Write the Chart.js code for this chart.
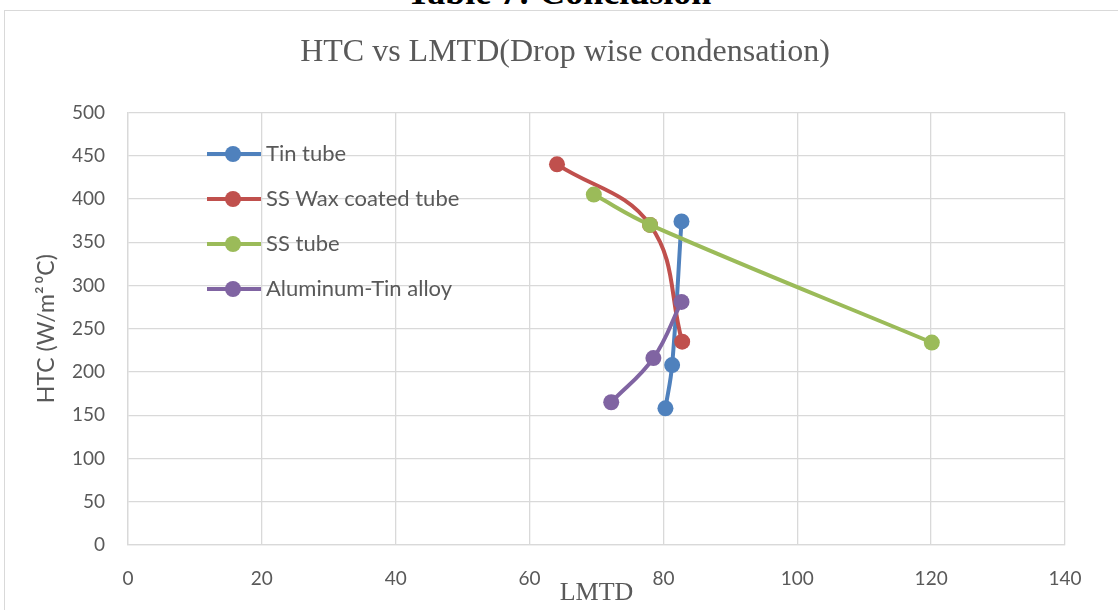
<!DOCTYPE html>
<html>
<head>
<meta charset="utf-8">
<script src="https://cdn.jsdelivr.net/npm/chart.js@4.4.0/dist/chart.umd.min.js"></script>
<style>
body{margin:0;background:#fff;width:1118px;height:610px;overflow:hidden;position:relative;font-family:Lato,sans-serif}
#cap{position:absolute;left:0;width:1118px;top:-26px;height:36px;line-height:36px;text-align:center;font-weight:bold;font-size:36px;font-family:"Liberation Serif",serif;color:#000}
#frame{position:absolute;left:4px;top:10px;width:1200px;height:700px;border-left:1.5px solid #d9d9d9;border-top:1.5px solid #d9d9d9}
#wrap{position:absolute;left:4px;top:12px;width:1110px;height:598px}
#legend{position:absolute;left:207px;top:131px}
.row{position:relative;height:45px;width:300px}
.ln{position:absolute;left:0;top:21px;width:54px;height:4px}
.dot{position:absolute;left:18px;top:15px;width:16px;height:16px;border-radius:50%}
.txt{position:absolute;left:59px;top:8px;font-size:22px;color:#595959;white-space:nowrap}
</style>
</head>
<body>
<div id="cap">Table 7: Conclusion</div>
<div id="frame"></div>
<div id="wrap"><canvas id="myChart" width="1110" height="598"></canvas></div>
<div id="legend"></div>
<script>
// values
let seriesNames = ['Tin tube', 'SS Wax coated tube', 'SS tube', 'Aluminum-Tin alloy'];
let tinX = [80.3, 81.3, 82.7];
let tinY = [158, 208, 374];
let waxX = [64.1, 78.0, 82.8];
let waxY = [440, 370, 235];
let ssX = [69.6, 78.0, 120.1];
let ssY = [405, 370, 234];
let alX = [72.2, 78.5, 82.7];
let alY = [165, 216, 281];

let colors = ['#4f81bd', '#c0504d', '#9bbb59', '#8064a2'];
let allX = [tinX, waxX, ssX, alX];
let allY = [tinY, waxY, ssY, alY];

function toPoints(xs, ys) {
    return xs.map(function (x, i) { return { x: x, y: ys[i] }; });
}

var datasets = seriesNames.map(function (name, i) {
    return {
        label: name,
        data: toPoints(allX[i], allY[i]),
        borderColor: colors[i],
        backgroundColor: colors[i],
        borderWidth: 4,
        pointRadius: 8,
        pointBorderWidth: 0,
        pointHoverRadius: 8,
        tension: 0.4,
        showLine: true,
        order: 4 - i
    };
});

// legend inside the plot, like the original
let legend = document.getElementById('legend');
seriesNames.forEach(function (name, i) {
    let row = document.createElement('div');
    row.className = 'row';
    row.innerHTML = '<div class="ln" style="background:' + colors[i] + '"></div>' +
        '<div class="dot" style="background:' + colors[i] + '"></div>' +
        '<div class="txt">' + name + '</div>';
    legend.appendChild(row);
});

var ctx = document.getElementById('myChart').getContext('2d');
var chart = new Chart(ctx, {
    type: 'scatter',
    data: { datasets: datasets },
    options: {
        responsive: false,
        animation: false,
        layout: { padding: { left: 61, right: 49, top: 0, bottom: 1 } },
        plugins: {
            legend: { display: false },
            tooltip: { enabled: false },
            title: {
                display: true,
                text: 'HTC vs LMTD(Drop wise condensation)',
                color: '#595959',
                font: { family: 'Liberation Serif', size: 32, weight: 'normal' },
                padding: { top: 21, bottom: 41 }
            }
        },
        scales: {
            x: {
                type: 'linear',
                min: 0,
                max: 140,
                afterFit: function (s) { s.height = 64; },
                ticks: { stepSize: 20, color: '#595959', font: { family: 'Lato', size: 19 }, padding: 22 },
                grid: { color: '#d9d9d9', lineWidth: 1.3, drawTicks: false },
                border: { color: '#d9d9d9', width: 1.3 },
                title: {
                    display: true,
                    text: 'LMTD',
                    color: '#595959',
                    font: { family: 'Liberation Serif', size: 26 },
                    padding: { top: 0, bottom: 0 }
                }
            },
            y: {
                min: 0,
                max: 500,
                afterFit: function (s) { s.width = 63; },
                ticks: { stepSize: 50, color: '#595959', font: { family: 'Lato', size: 19 }, padding: 23 },
                grid: { color: '#d9d9d9', lineWidth: 1.3, drawTicks: false },
                border: { color: '#d9d9d9', width: 1.3 },
                title: {
                    display: true,
                    text: 'HTC (W/m\u00b2\u2009\u2070C)',
                    color: '#595959',
                    font: { family: 'Lato', size: 23 },
                    padding: { top: -32, bottom: 0 }
                }
            }
        }
    }
});
</script>
</body>
</html>
